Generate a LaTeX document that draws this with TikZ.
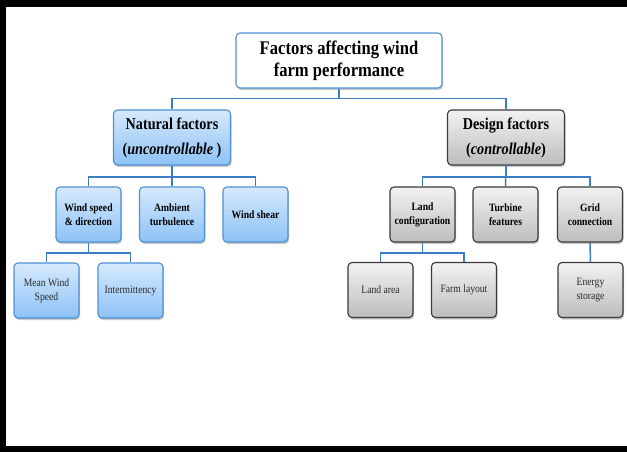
\documentclass[tikz,border=0pt]{standalone}
\usepackage{fontspec}
\setmainfont{Liberation Serif}[FakeStretch=0.86]
\usetikzlibrary{shadows}
\definecolor{conn}{HTML}{3D7DC4}
\definecolor{blueedge}{HTML}{4F8FD6}
\definecolor{bluetop}{HTML}{D6E9FC}
\definecolor{bluebot}{HTML}{8DC2F6}
\definecolor{graytop}{HTML}{F2F2F2}
\definecolor{graybot}{HTML}{BDBDBD}
\definecolor{grayedge}{HTML}{3A3A3A}
\definecolor{lowtext}{HTML}{2A2A2A}
\tikzset{
  box/.style={rounded corners=4pt, line width=1.1pt, align=center, inner sep=1pt,
    drop shadow={shadow xshift=1pt, shadow yshift=-2pt, opacity=0.35, fill=black!60}},
  rootbox/.style={box, draw=blueedge, fill=white, minimum width=206pt, minimum height=55pt,
    font=\fontsize{19.3}{22}\selectfont\bfseries},
  natbox/.style={box, draw=blueedge, top color=bluetop, bottom color=bluebot},
  desbox/.style={box, draw=grayedge, top color=graytop, bottom color=graybot},
  big/.style={minimum width=117pt, minimum height=55pt, font=\fontsize{16.5}{25}\selectfont\bfseries},
  mid/.style={minimum width=65pt, minimum height=55pt, font=\fontsize{11.2}{14}\selectfont\bfseries},
  low/.style={minimum width=65pt, minimum height=55pt, text=lowtext, font=\fontsize{11.2}{14}\selectfont},
  link/.style={draw=conn, line width=1.5pt}
}
\begin{document}
\begin{tikzpicture}[x=1pt,y=-1pt]
\useasboundingbox (0,0) rectangle (627,452);
\fill[white] (0,0) rectangle (627,452);
\draw[line width=6.5pt, black] (3.2,3.5) rectangle (660,449.3);

\node[rootbox] (root) at (339,60.5) {Factors affecting wind\\farm performance};

\node[natbox, big] (nat) at (172,137.5) {Natural factors\\(\textit{uncontrollable} )};
\node[desbox, big] (des) at (506,137.5) {Design factors\\(\textit{controllable})};

\node[natbox, mid] (ws) at (88.5,214.5) {Wind speed\\\& direction};
\node[natbox, mid] (amb) at (172,214.5) {Ambient\\turbulence};
\node[natbox, mid] (shear) at (255.5,214.5) {Wind shear};

\node[natbox, low] (mean) at (46.5,290.5) {Mean Wind\\Speed};
\node[natbox, low] (inter) at (130.5,290.5) {Intermittency};

\node[desbox, mid] (land) at (422.5,214.5) {Land\\configuration};
\node[desbox, mid] (turb) at (505.5,214.5) {Turbine\\features};
\node[desbox, mid] (grid) at (590,214.5) {Grid\\connection};

\node[desbox, low] (larea) at (380.5,290) {Land area};
\node[desbox, low] (farm) at (464,290) {Farm layout};
\node[desbox, low] (energy) at (590.5,290) {Energy\\storage};

\draw[link] (root.south) -- ++(0,10) -| (nat.north);
\draw[link] (root.south) -- ++(0,10) -| (des.north);
\draw[link] (nat.south) -- ++(0,11.5) -| (ws.north);
\draw[link] (nat.south) -- (amb.north);
\draw[link] (nat.south) -- ++(0,11.5) -| (shear.north);
\draw[link] (ws.south) -- ++(0,10.5) -| (mean.north);
\draw[link] (ws.south) -- ++(0,10.5) -| (inter.north);
\draw[link] (des.south) -- ++(0,11.5) -| (land.north);
\draw[link] (des.south) -- (turb.north);
\draw[link] (des.south) -- ++(0,11.5) -| (grid.north);
\draw[link] (land.south) -- ++(0,10.5) -| (larea.north);
\draw[link] (land.south) -- ++(0,10.5) -| (farm.north);
\draw[link] (grid.south) -- (energy.north);
\end{tikzpicture}
\end{document}
